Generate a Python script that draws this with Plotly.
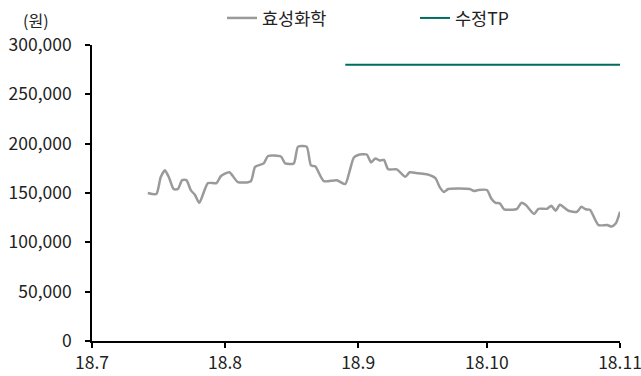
import plotly.graph_objects as go

# ---- data (values in KRW) ----
price_dates = [
    "2018-07-14", "2018-07-16", "2018-07-17", "2018-07-18", "2018-07-19", "2018-07-20",
    "2018-07-21", "2018-07-22", "2018-07-23", "2018-07-24", "2018-07-25", "2018-07-26",
    "2018-07-28", "2018-07-30", "2018-07-31", "2018-08-02", "2018-08-04", "2018-08-07",
    "2018-08-08", "2018-08-10", "2018-08-11", "2018-08-14", "2018-08-15", "2018-08-17",
    "2018-08-18", "2018-08-20", "2018-08-21", "2018-08-22", "2018-08-24", "2018-08-27",
    "2018-08-29", "2018-08-30", "2018-08-31", "2018-09-01", "2018-09-03", "2018-09-04",
    "2018-09-05", "2018-09-06", "2018-09-07", "2018-09-08", "2018-09-10", "2018-09-12",
    "2018-09-13", "2018-09-15", "2018-09-17", "2018-09-19", "2018-09-20", "2018-09-21",
    "2018-09-22", "2018-09-27", "2018-09-28", "2018-09-29", "2018-10-01", "2018-10-02",
    "2018-10-03", "2018-10-04", "2018-10-05", "2018-10-08", "2018-10-09", "2018-10-10",
    "2018-10-12", "2018-10-13", "2018-10-15", "2018-10-16", "2018-10-17", "2018-10-18",
    "2018-10-20", "2018-10-22", "2018-10-23", "2018-10-24", "2018-10-25", "2018-10-27",
    "2018-10-29", "2018-10-30", "2018-10-31", "2018-11-01",
]
price_values = [
    150000, 149000, 166000, 173000, 165000, 154000,
    154000, 163000, 163000, 153000, 148000, 140000,
    160000, 160000, 167000, 171000, 161000, 162000,
    176500, 180000, 187500, 187000, 180000, 180000,
    197000, 197000, 178000, 177000, 162000, 163000,
    159000, 172000, 186000, 188500, 189000, 181000,
    185000, 183000, 183500, 174000, 174000, 166500,
    171000, 170000, 169000, 165000, 156000, 151000,
    154000, 154000, 152000, 153000, 153000, 144500,
    140000, 139500, 133500, 134000, 140000, 138000,
    128700, 134000, 134000, 137000, 132000, 138000,
    132000, 131000, 136000, 133500, 133000, 117500,
    117500, 116000, 119000, 131000,
]

tp_dates = ["2018-08-29", "2018-11-01"]
tp_values = [280000, 280000]

series_names = ["효성화학", "수정TP"]

x_tick_vals = ["2018-07-01", "2018-08-01", "2018-09-01", "2018-10-01", "2018-11-01"]
x_tick_text = ["18.7", "18.8", "18.9", "18.10", "18.11"]
y_tick_vals = [0, 50000, 100000, 150000, 200000, 250000, 300000]

FONT = "Noto Sans CJK KR"
FS = 17.5
TXT = "#222222"

fig = go.Figure()
fig.add_trace(go.Scatter(
    x=price_dates, y=price_values, name=series_names[0], mode="lines",
    line=dict(color="#9a9a9a", width=2.5, shape="spline", smoothing=0.6),
    legend="legend",
))
fig.add_trace(go.Scatter(
    x=tp_dates, y=tp_values, name=series_names[1], mode="lines",
    line=dict(color="#006b5e", width=2),
    legend="legend2",
))

leg_common = dict(
    orientation="h", yref="paper", y=1.091, yanchor="middle",
    xref="paper", xanchor="left",
    font=dict(family=FONT, size=FS, color=TXT),
    bgcolor="rgba(0,0,0,0)", borderwidth=0,
)

fig.update_layout(
    width=641, height=376,
    margin=dict(l=92, r=21, t=45, b=35, autoexpand=False),
    paper_bgcolor="white", plot_bgcolor="white",
    font=dict(family=FONT, size=FS, color=TXT),
    showlegend=True,
    legend=dict(x=(222 - 92) / 528, **leg_common),
    legend2=dict(x=(415 - 92) / 528, **leg_common),
    xaxis=dict(
        type="date", range=["2018-07-01", "2018-11-01"],
        tickvals=x_tick_vals, ticktext=x_tick_text,
        showgrid=False, zeroline=False, automargin=False,
        showline=True, linecolor="black", linewidth=1.5,
        ticks="outside", ticklen=5, tickcolor="black", tickwidth=1.5,
        ticklabelstandoff=0, ticklabeloverflow="allow",
        tickfont=dict(family=FONT, size=FS, color=TXT),
    ),
    yaxis=dict(
        range=[0, 300000], tickvals=y_tick_vals, tickformat=",",
        showgrid=False, zeroline=False, automargin=False,
        showline=True, linecolor="black", linewidth=1.5,
        ticks="outside", ticklen=5, tickcolor="black", tickwidth=1.5,
        ticklabelstandoff=10,
        tickfont=dict(family=FONT, size=FS, color=TXT),
    ),
    annotations=[dict(
        text="(원)", xref="paper", yref="paper", x=-0.106, y=1.083,
        xanchor="center", yanchor="middle", showarrow=False,
        font=dict(family=FONT, size=16, color=TXT),
    )],
)

fig.write_html("out.html")
